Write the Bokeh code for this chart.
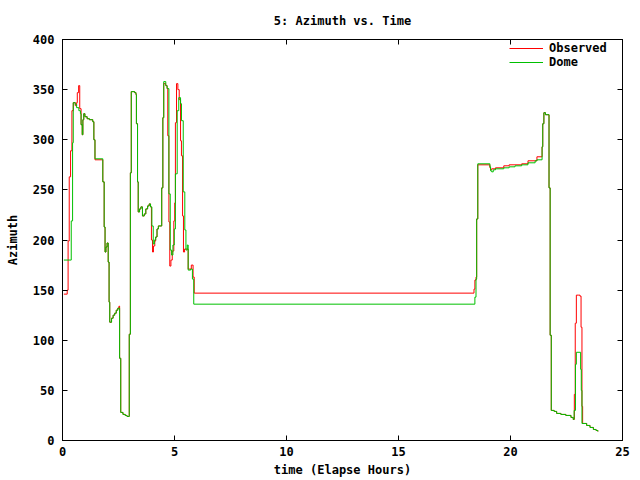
from bokeh.plotting import figure
from bokeh.models import Range1d, LinearAxis, FixedTicker, Legend, LegendItem
from bokeh.embed import file_html
from bokeh.resources import INLINE

# ---- data ----
dome_time = [0.06, 0.39, 0.45, 0.48, 0.57, 0.63, 0.73, 0.80, 0.83, 0.88, 0.91, 0.95, 1.00, 1.10, 1.20, 1.35,
             1.40, 1.45, 1.80, 1.86, 1.90, 1.94, 1.99, 2.04, 2.08, 2.11, 2.19, 2.26, 2.33, 2.40, 2.47, 2.55,
             2.60, 2.70, 2.80, 2.88, 2.98, 3.03, 3.07, 3.22, 3.28, 3.30, 3.35, 3.38, 3.44, 3.50, 3.57, 3.65,
             3.72, 3.80, 3.87, 3.93, 3.99, 4.05, 4.10, 4.16, 4.22, 4.28, 4.43, 4.48, 4.52, 4.61, 4.67, 4.75,
             4.81, 4.87, 4.93, 4.99, 5.04, 5.12, 5.19, 5.27, 5.31, 5.39, 5.46, 5.51, 5.57, 5.61, 5.72, 5.80,
             5.86, 18.41, 18.46, 18.49, 18.54, 19.08, 19.11, 19.16, 19.23, 19.33, 19.70, 19.94, 20.20, 20.50,
             20.78, 21.10, 21.18, 21.41, 21.44, 21.49, 21.56, 21.72, 21.77, 21.82, 21.95, 22.06, 22.25, 22.47,
             22.70, 22.80, 22.84, 22.90, 22.94, 23.13, 23.16, 23.19, 23.40, 23.55, 23.70, 23.82, 23.90]
dome_az = [180, 219, 297, 337, 335, 332, 329, 326, 315, 305, 320, 326, 323, 321, 320, 318,
           300, 281, 258, 213, 188, 193, 197, 178, 138, 118, 122, 125, 127, 130, 132, 82,
           28, 26, 25, 24, 106, 267, 348, 347, 345, 316, 258, 228, 231, 233, 224, 226,
           231, 234, 236, 233, 214, 196, 200, 203, 211, 214, 252, 322, 358, 354, 351, 246,
           190, 185, 195, 211, 266, 329, 342, 336, 319, 248, 210, 190, 195, 170, 171, 161,
           136, 143, 161, 221, 276, 273, 269, 268, 270, 271, 272, 273, 274, 275,
           277, 279, 280, 293, 316, 327, 325, 252, 105, 30, 29, 27, 26, 25,
           23, 21, 30, 76, 88, 71, 50, 17, 15, 13, 11, 10, 9]

obs_time = [0.06, 0.21, 0.25, 0.30, 0.36, 0.42, 0.48, 0.57, 0.63, 0.66, 0.72, 0.77, 0.83, 0.88, 0.91, 0.95,
            1.00, 1.10, 1.20, 1.35, 1.40, 1.45, 1.80, 1.86, 1.90, 1.94, 1.99, 2.04, 2.08, 2.11, 2.19, 2.26,
            2.33, 2.40, 2.47, 2.52, 2.55, 2.60, 2.70, 2.80, 2.88, 2.98, 3.03, 3.07, 3.22, 3.28, 3.30, 3.35,
            3.38, 3.44, 3.50, 3.57, 3.65, 3.72, 3.80, 3.87, 3.93, 3.97, 4.02, 4.06, 4.12, 4.16, 4.22, 4.28,
            4.43, 4.48, 4.52, 4.61, 4.67, 4.70, 4.75, 4.79, 4.84, 4.90, 4.97, 5.01, 5.04, 5.09, 5.15, 5.21,
            5.27, 5.31, 5.36, 5.40, 5.45, 5.52, 5.61, 5.75, 5.83, 5.88, 18.37, 18.41, 18.46, 18.49, 18.54,
            19.08, 19.11, 19.16, 19.33, 19.70, 19.94, 20.20, 20.50, 20.78, 21.18, 21.41, 21.44, 21.49, 21.56,
            21.72, 21.77, 21.82, 21.95, 22.06, 22.25, 22.47, 22.70, 22.80, 22.85, 22.89, 22.94, 23.05, 23.10,
            23.15, 23.19, 23.22, 23.40, 23.55, 23.70, 23.82, 23.90]
obs_az = [146, 150, 199, 263, 289, 329, 337, 334, 337, 347, 354, 331, 315, 305, 320, 326,
          323, 321, 320, 318, 300, 280, 258, 213, 188, 193, 197, 178, 138, 118, 122, 125,
          127, 130, 132, 134, 82, 28, 26, 25, 24, 106, 267, 348, 347, 345, 316, 258,
          228, 231, 233, 224, 226, 231, 234, 236, 233, 200, 188, 194, 199, 203, 211, 214,
          252, 322, 356, 354, 351, 304, 218, 174, 180, 189, 219, 237, 317, 356, 350, 340,
          299, 284, 224, 188, 191, 191, 171, 175, 163, 147, 151, 160, 163, 221, 275,
          272, 270, 271, 272, 274, 275, 275, 276, 279, 283, 293, 316, 327, 325,
          252, 105, 30, 29, 27, 26, 25, 23, 21, 46, 117, 145, 145, 144,
          113, 34, 17, 15, 13, 11, 10, 9]

x_ticks = [0, 5, 10, 15, 20, 25]
y_ticks = [0, 50, 100, 150, 200, 250, 300, 350, 400]

FONT = "DejaVu Sans Mono"
FS = "12px"

p = figure(frame_width=560, frame_height=401, output_backend="svg", toolbar_location=None,
           x_range=Range1d(0, 25), y_range=Range1d(0, 400),
           min_border_left=62, min_border_right=18, min_border_top=39, min_border_bottom=40,
           title="5: Azimuth vs. Time")
p.title.align = "center"
p.title.text_font = FONT
p.title.text_font_size = FS
p.title.text_font_style = "bold"
p.title.text_color = "black"
p.title.standoff = 23

p.grid.visible = False
p.outline_line_color = "black"
p.outline_line_width = 1
p.background_fill_color = "white"
p.border_fill_color = "white"

for ax in (p.xaxis[0], p.yaxis[0]):
    ax.major_label_text_font = FONT
    ax.major_label_text_font_size = FS
    ax.major_label_text_font_style = "bold"
    ax.major_label_text_color = "black"
    ax.axis_label_text_font = FONT
    ax.axis_label_text_font_size = FS
    ax.axis_label_text_font_style = "bold"
    ax.axis_label_text_color = "black"
    ax.major_tick_in = 5
    ax.major_tick_out = 0
    ax.minor_tick_in = 0
    ax.minor_tick_out = 0
    ax.axis_line_color = "black"
    ax.major_tick_line_color = "black"

p.xaxis[0].ticker = FixedTicker(ticks=x_ticks)
p.yaxis[0].ticker = FixedTicker(ticks=y_ticks)
p.xaxis[0].axis_label = "time (Elapse Hours)"
p.yaxis[0].axis_label = "Azimuth"
p.xaxis[0].major_label_standoff = 6
p.xaxis[0].axis_label_standoff = 4
p.yaxis[0].major_label_standoff = 8
p.yaxis[0].axis_label_standoff = 10

top = LinearAxis(ticker=FixedTicker(ticks=x_ticks), major_label_text_font_size="1px",
                 major_label_text_color=None,
                 major_tick_in=5, major_tick_out=0, minor_tick_in=0, minor_tick_out=0,
                 major_label_standoff=0, axis_line_color="black")
right = LinearAxis(ticker=FixedTicker(ticks=y_ticks), major_label_text_font_size="1px",
                   major_label_text_color=None,
                   major_tick_in=5, major_tick_out=0, minor_tick_in=0, minor_tick_out=0,
                   major_label_standoff=0, axis_line_color="black")
p.add_layout(top, "above")
p.add_layout(right, "right")

r_obs = p.step(obs_time, obs_az, mode="after", line_color="#ff0000", line_width=1)
r_dome = p.step(dome_time, dome_az, mode="after", line_color="#00c000", line_width=1)

legend = Legend(items=[LegendItem(label="Observed", renderers=[r_obs]),
                       LegendItem(label="Dome", renderers=[r_dome])],
                location=(447, 371), padding=0, spacing=0, margin=0,
                glyph_width=34, glyph_height=14, label_height=14, label_standoff=6,
                label_text_font=FONT, label_text_font_size=FS, label_text_font_style="bold",
                label_text_color="black",
                border_line_color=None, background_fill_alpha=0)
p.add_layout(legend, "center")

open("out.html", "w").write(file_html(p, INLINE))
